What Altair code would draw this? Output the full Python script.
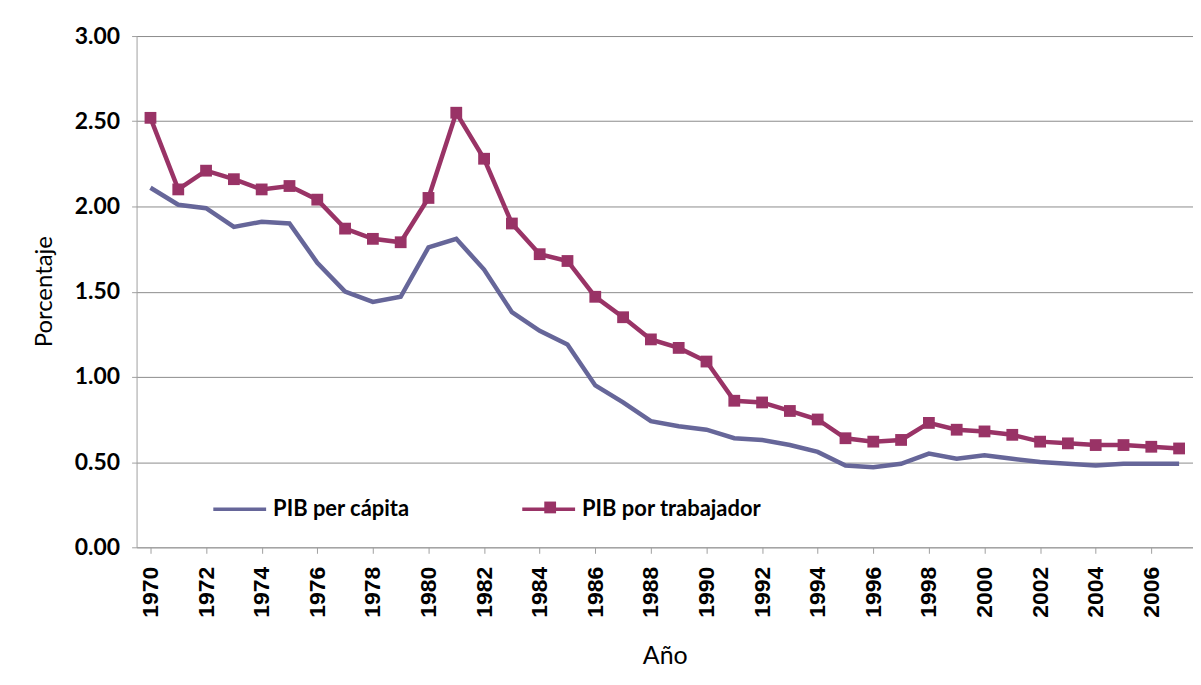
import altair as alt
import pandas as pd

years = list(range(1970, 2008))
pib_per_capita = [2.11, 2.01, 1.99, 1.88, 1.91, 1.90, 1.67, 1.50, 1.44, 1.47,
                  1.76, 1.81, 1.63, 1.38, 1.27, 1.19, 0.95, 0.85, 0.74, 0.71,
                  0.69, 0.64, 0.63, 0.60, 0.56, 0.48, 0.47, 0.49, 0.55, 0.52,
                  0.54, 0.52, 0.50, 0.49, 0.48, 0.49, 0.49, 0.49]
pib_por_trabajador = [2.52, 2.10, 2.21, 2.16, 2.10, 2.12, 2.04, 1.87, 1.81, 1.79,
                      2.05, 2.55, 2.28, 1.90, 1.72, 1.68, 1.47, 1.35, 1.22, 1.17,
                      1.09, 0.86, 0.85, 0.80, 0.75, 0.64, 0.62, 0.63, 0.73, 0.69,
                      0.68, 0.66, 0.62, 0.61, 0.60, 0.60, 0.59, 0.58]
series = ["PIB per cápita", "PIB por trabajador"]
colors = ["#666699", "#993366"]
x_labels = list(range(1970, 2007, 2))
y_ticks = [0, 0.5, 1.0, 1.5, 2.0, 2.5, 3.0]

rows = []
for i, yr in enumerate(years):
    rows.append({"year": yr, "serie": series[0], "value": pib_per_capita[i]})
    rows.append({"year": yr, "serie": series[1], "value": pib_por_trabajador[i]})
df = pd.DataFrame(rows)

x_enc = alt.X("year:O", scale=alt.Scale(type="point", padding=0.5),
              axis=alt.Axis(values=x_labels, labelAngle=270, title="Año",
                            labelFont="Liberation Sans", labelFontWeight="bold",
                            labelFontSize=23, labelColor="black", labelPadding=13,
                            tickSize=6, tickColor="#A0A0A0", domainColor="#A0A0A0",
                            grid=False, titleFont="Lato", titleFontWeight="normal",
                            titleFontSize=25, titleColor="black", titleY=109,
                            titleBaseline="middle"))
y_enc = alt.Y("value:Q", scale=alt.Scale(domain=[0, 3], nice=False),
              axis=alt.Axis(values=y_ticks, format=".2f", title="Porcentaje",
                            labelFont="Lato", labelFontWeight="bold", labelFontSize=23,
                            labelColor="black", labelPadding=12, tickSize=5,
                            tickColor="#A0A0A0", domainColor="#A0A0A0",
                            grid=True, gridColor="#8C8C8C", gridWidth=1,
                            titleFont="Lato", titleFontWeight="normal", titleFontSize=24,
                            titleColor="black", titleX=-92, titleY=256, titleAngle=270,
                            titleAlign="center", titleBaseline="middle"))

lines = alt.Chart(df).mark_line(strokeWidth=4.5).encode(
    x=x_enc, y=y_enc,
    color=alt.Color("serie:N", scale=alt.Scale(domain=series, range=colors),
                    legend=alt.Legend(title=None, orient="none", legendX=75, legendY=446,
                                      direction="horizontal", symbolType="stroke",
                                      symbolSize=2809, symbolStrokeWidth=3.5,
                                      labelFont="Lato", labelFontWeight="bold",
                                      labelFontSize=22, labelColor="black",
                                      labelLimit=400, labelOffset=5, columnPadding=106)),
)

squares = alt.Chart(df).transform_filter(
    alt.datum.serie == series[1]
).mark_point(size=140, opacity=1, filled=True, color=colors[1]).encode(
    x="year:O", y="value:Q",
    shape=alt.Shape("serie:N", scale=alt.Scale(domain=[series[1]], range=["square"]),
                    legend=alt.Legend(title=None, orient="none", legendX=409, legendY=467,
                                      symbolSize=140, symbolFillColor=colors[1],
                                      symbolStrokeWidth=0, labelExpr="''",
                                      zindex=2)),
)

chart = alt.layer(lines, squares).properties(
    width=1060, height=513,
    autosize=alt.AutoSizeParams(type="none"),
    padding={"left": 129, "top": 27, "right": 0, "bottom": 130},
).configure_view(strokeWidth=0)

chart.save("out.html", embed_options={"renderer": "svg", "actions": False})
